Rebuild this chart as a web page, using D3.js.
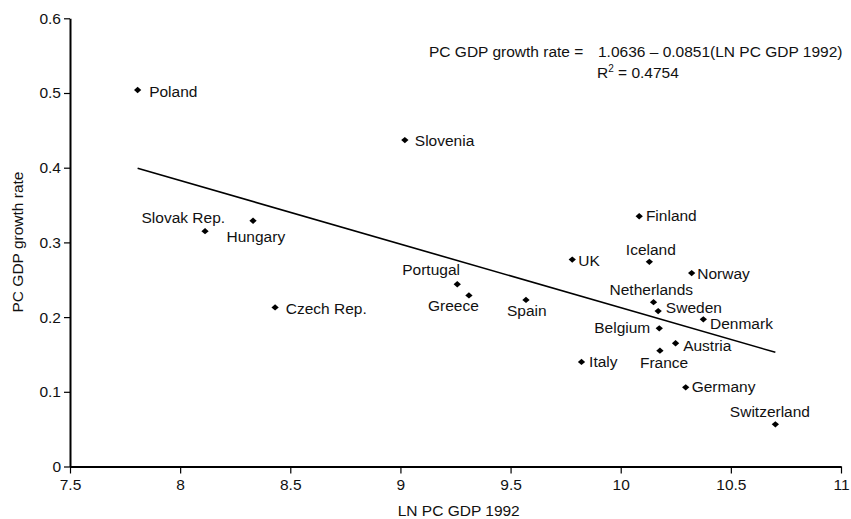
<!DOCTYPE html>
<html>
<head>
<meta charset="utf-8">
<script src="https://cdn.jsdelivr.net/npm/d3@7/dist/d3.min.js"></script>
<style>
  html, body { margin: 0; padding: 0; background: #fff; }
  svg { display: block; font-family: "Liberation Sans", Arial, Helvetica, sans-serif; }
</style>
</head>
<body>
<svg id="chart" width="851" height="519"></svg>
<script>
// ---- data ----
const countries = ["Poland","Slovenia","Slovak Rep.","Hungary","Czech Rep.","Portugal","Greece","Spain","UK","Finland","Iceland","Norway","Netherlands","Sweden","Denmark","Belgium","Austria","France","Italy","Germany","Switzerland"];
const lnGdp1992 = [7.807, 9.020, 8.113, 8.331, 8.431, 9.258, 9.311, 9.570, 9.780, 10.084, 10.130, 10.322, 10.149, 10.170, 10.375, 10.175, 10.249, 10.178, 9.822, 10.295, 10.702];
const growthRate = [0.504, 0.437, 0.315, 0.329, 0.213, 0.244, 0.229, 0.223, 0.277, 0.335, 0.274, 0.259, 0.220, 0.208, 0.197, 0.185, 0.165, 0.155, 0.140, 0.106, 0.0565];
const xTicks = [7.5, 8, 8.5, 9, 9.5, 10, 10.5, 11];
const xTickLabels = ["7.5","8","8.5","9","9.5","10","10.5","11"];
const yTicks = [0, 0.1, 0.2, 0.3, 0.4, 0.5, 0.6];
const yTickLabels = ["0","0.1","0.2","0.3","0.4","0.5","0.6"];
const intercept = 1.0636;
const slope = -0.0851;
const rSquared = "0.4754";
const xTitle = "LN PC GDP 1992";
const yTitle = "PC GDP growth rate";

// ---- layout (label offsets in px relative to marker: start-anchored text) ----
const labelOffsets = {
  "Poland": [11.5, 7.3], "Slovenia": [10, 6], "Slovak Rep.": [-63.5, -7.7], "Hungary": [-26.5, 21],
  "Czech Rep.": [10.7, 6.7], "Portugal": [-55, -9.3], "Greece": [-41, 16], "Spain": [-19, 16],
  "UK": [6, 6.7], "Finland": [6.7, 5], "Iceland": [-23.5, -6.7], "Norway": [5.6, 5.7],
  "Netherlands": [-44, -7.3], "Sweden": [7.7, 1.7], "Denmark": [6.7, 10], "Belgium": [-65, 5],
  "Austria": [7.6, 7.4], "France": [-20, 17.3], "Italy": [7.6, 5], "Germany": [6, 4.4],
  "Switzerland": [-45.5, -7.6]
};

const W = 851, H = 519;
const margin = {left: 70, right: 10, top: 18.3, bottom: 52.5};
const FS = 15.5;

const svg = d3.select("#chart");
const x = d3.scaleLinear().domain([7.5, 11]).range([margin.left, W - margin.right]);
const y = d3.scaleLinear().domain([0, 0.6]).range([H - margin.bottom, margin.top]);

// axes
const xAxis = d3.axisBottom(x).tickValues(xTicks).tickFormat((d, i) => xTickLabels[i]).tickSize(7).tickSizeOuter(0);
const yAxis = d3.axisLeft(y).tickValues(yTicks).tickFormat((d, i) => yTickLabels[i]).tickSize(6).tickSizeOuter(0);

const gx = svg.append("g").attr("transform", `translate(0,${y(0)})`).call(xAxis);
const gy = svg.append("g").attr("transform", `translate(${x(7.5)},0)`).call(yAxis);
[gx, gy].forEach(g => {
  g.select(".domain").attr("stroke", "#000").attr("stroke-width", 2);
  g.selectAll(".tick line").attr("stroke", "#000").attr("stroke-width", 1.2);
  g.selectAll(".tick text").attr("fill", "#111").style("font-size", FS + "px").style("font-family", "Liberation Sans, Arial, sans-serif");
});
gx.selectAll(".tick text").attr("dy", "0.95em").attr("y", 9);
gy.selectAll(".tick text").attr("x", -9);

// regression line
const xMin = d3.min(lnGdp1992), xMax = d3.max(lnGdp1992);
svg.append("line")
  .attr("x1", x(xMin)).attr("y1", y(intercept + slope * xMin))
  .attr("x2", x(xMax)).attr("y2", y(intercept + slope * xMax))
  .attr("stroke", "#000").attr("stroke-width", 1.6);

// points (squat diamonds)
const pts = countries.map((c, i) => ({name: c, gx: lnGdp1992[i], gr: growthRate[i]}));
const marker = d3.symbol().type(d3.symbolSquare).size(22);
svg.append("g").selectAll("path").data(pts).join("path")
  .attr("d", marker)
  .attr("transform", d => `translate(${x(d.gx)},${y(d.gr)}) scale(1.1,0.95) rotate(45)`)
  .attr("fill", "#000");

svg.append("g").selectAll("text").data(pts).join("text")
  .attr("x", d => x(d.gx) + labelOffsets[d.name][0])
  .attr("y", d => y(d.gr) + labelOffsets[d.name][1])
  .attr("fill", "#111")
  .style("font-size", FS + "px")
  .text(d => d.name);

// equation
svg.append("text").attr("x", 429).attr("y", 57.3).attr("fill", "#111").style("font-size", FS + "px")
  .text("PC GDP growth rate =");
svg.append("text").attr("x", 598).attr("y", 57.3).attr("fill", "#111").style("font-size", FS + "px")
  .text(`${intercept.toFixed(4)} \u2013 ${Math.abs(slope).toFixed(4)}(${xTitle})`);
const r2 = svg.append("text").attr("x", 597).attr("y", 78.3).attr("fill", "#111").style("font-size", FS + "px");
r2.append("tspan").text("R");
r2.append("tspan").attr("dy", -6).style("font-size", "10px").text("2");
r2.append("tspan").attr("dy", 6).text(" = " + rSquared);

// axis titles
svg.append("text").attr("x", 397.7).attr("y", 515.5).attr("fill", "#111").style("font-size", FS + "px").text(xTitle);
svg.append("text").attr("transform", "translate(23,242) rotate(-90)").attr("text-anchor", "middle")
  .attr("fill", "#111").style("font-size", FS + "px").text(yTitle);
</script>
</body>
</html>
